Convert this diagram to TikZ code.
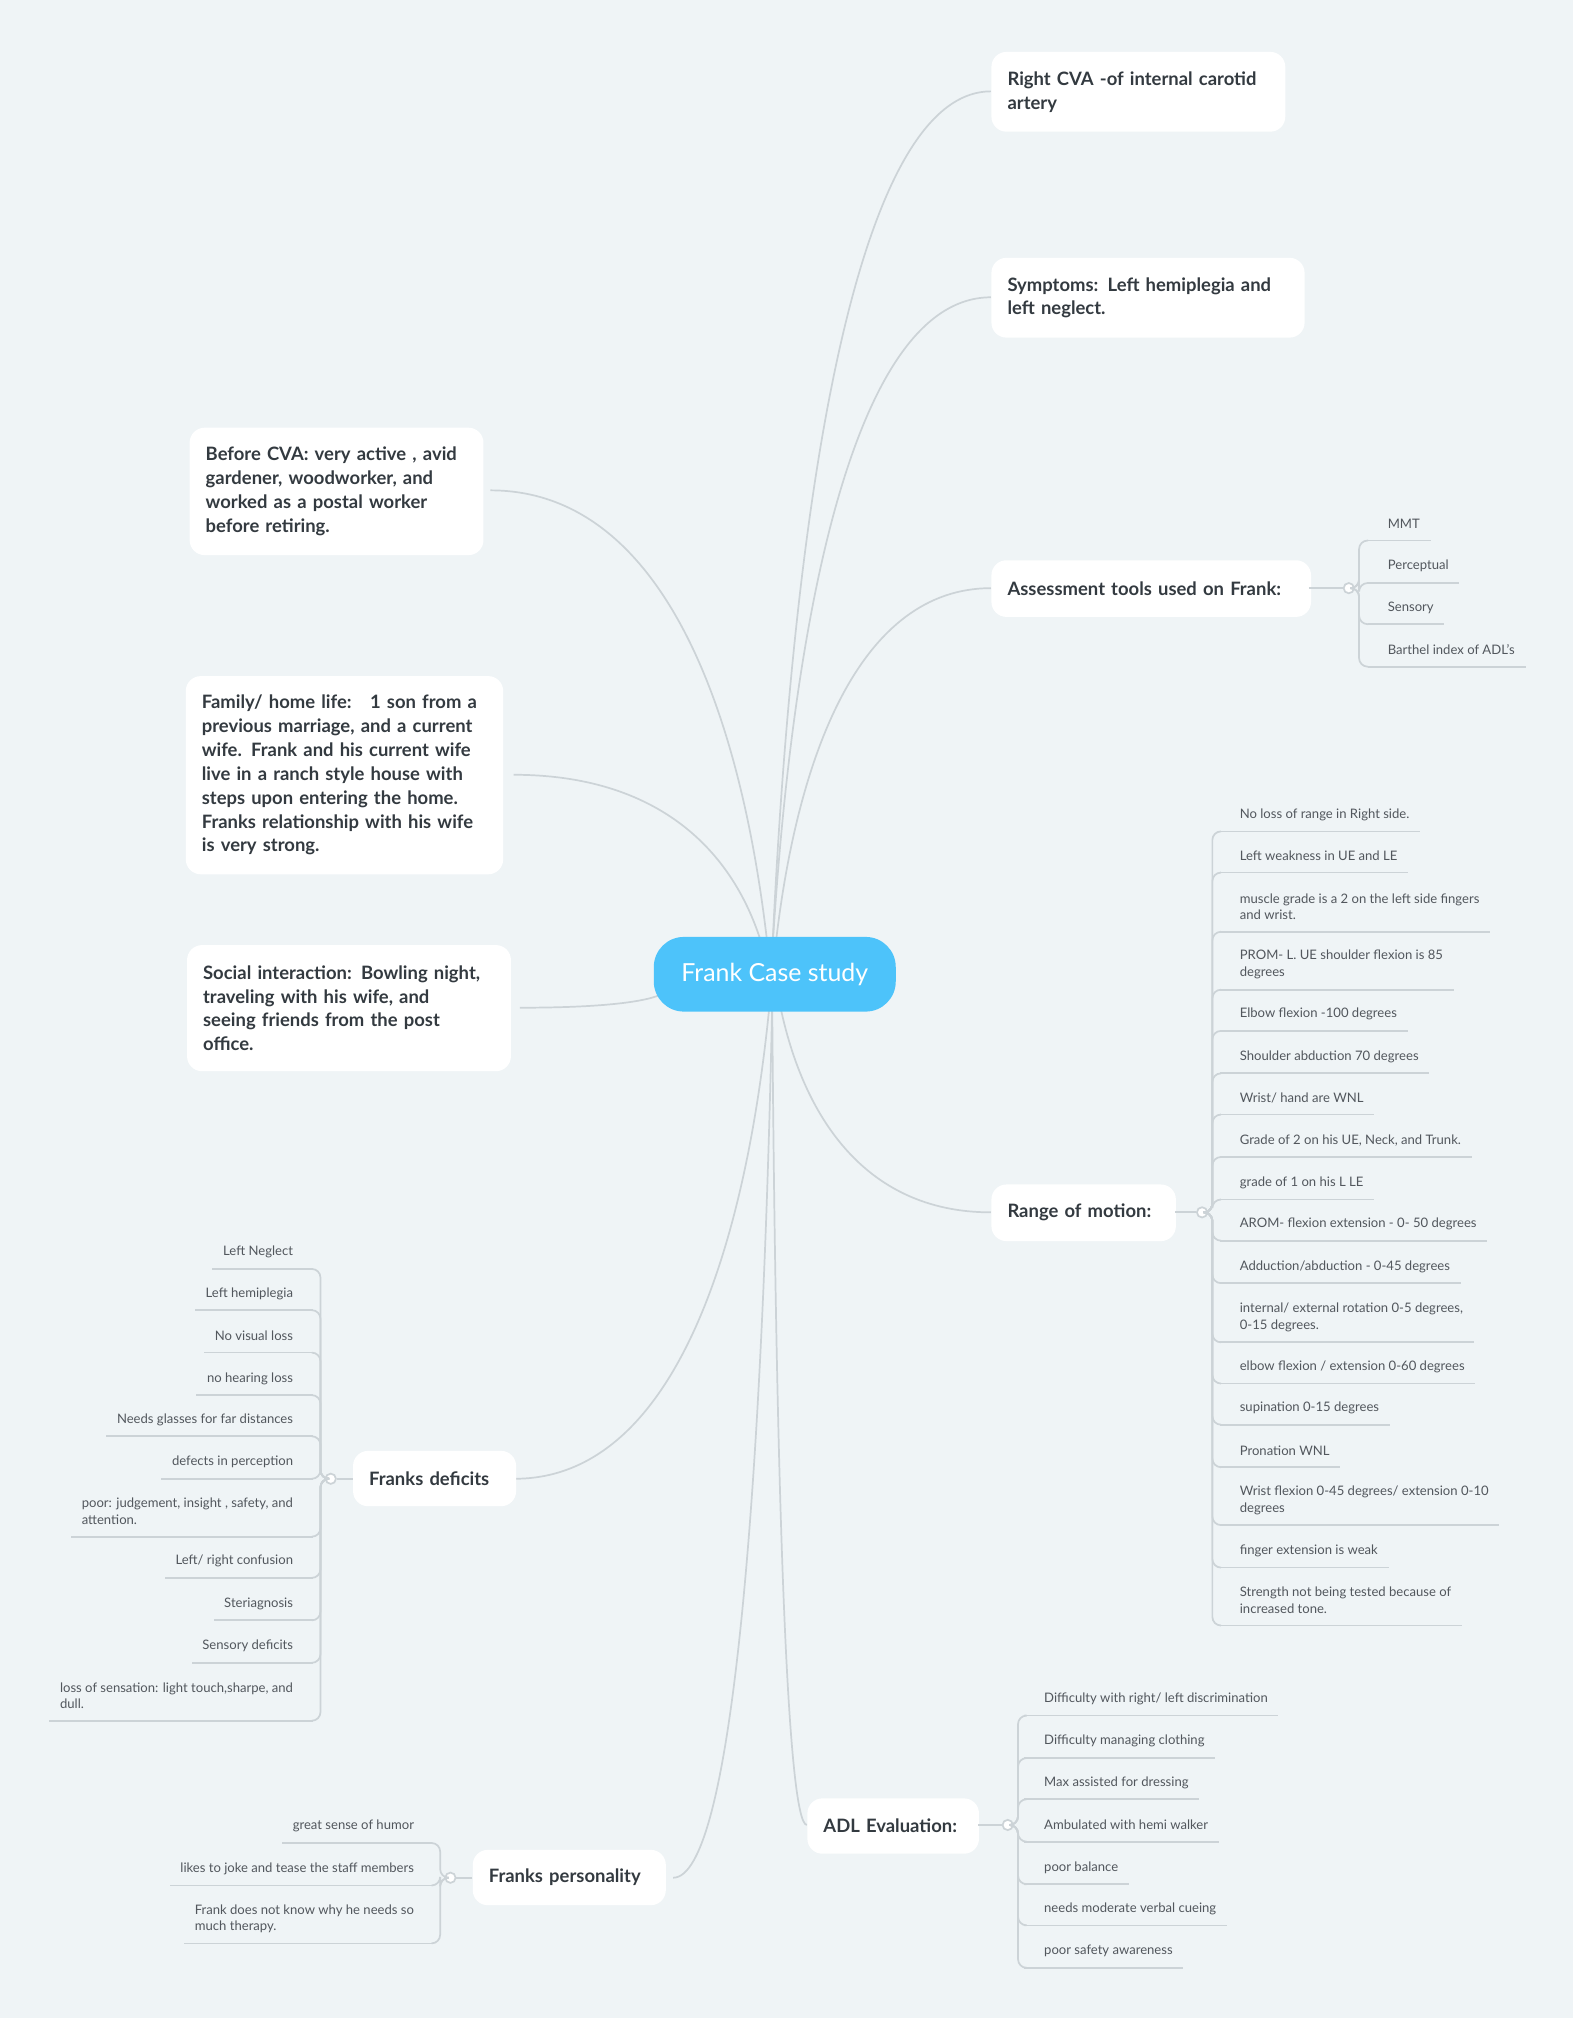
\documentclass[tikz,border=0pt]{standalone}
\usepackage{fontspec}
\setmainfont{Lato}
\definecolor{bg}{HTML}{EFF4F6}
\definecolor{ln}{HTML}{CCD3D7}
\definecolor{tx}{HTML}{333A40}
\definecolor{cen}{HTML}{4DC3FA}
\tikzset{
 ln/.style={draw=ln,line width=0.8pt},
 main/.style={fill=white,rounded corners=7pt,font=\fontsize{8.6}{11.1}\selectfont\bfseries,text=tx,align=left,inner xsep=7.5pt,anchor=north west},
 leaf/.style={font=\fontsize{6.1}{7.8}\selectfont,text=tx!85,align=left,inner xsep=4.8pt,inner ysep=1pt},
 hubc/.style={circle,fill=white,draw=ln,line width=0.8pt,inner sep=0pt,minimum size=4.8pt}
}
\newcommand\leafR[7]{%
 \node[leaf,anchor=west] (#1) at ({#2-8},{(#3+#4)/2}) {#5};
 \coordinate (#1u) at ({#2-15},{#4+13});
 \draw[ln] (#1u) -- (#1u -| #1.east);
 \draw[ln,rounded corners=4pt] (#6) -- (#7,0 |- #6) -- (#7,0 |- #1u) -- (#1u);}
\newcommand\leafL[7]{%
 \node[leaf,anchor=east] (#1) at ({#2+8},{(#3+#4)/2}) {#5};
 \coordinate (#1u) at ({#7-6},{#4+13});
 \draw[ln] (#1u) -- (#1u -| #1.west);
 \draw[ln,rounded corners=4pt] (#6) -- (#7,0 |- #6) -- (#7,0 |- #1u) -- (#1u);}
\newcommand\conn[4]{\draw[ln] (#1,#2) .. controls ({#1+0.1*(#3-#1)},{#2+0.55*(#4-#2)}) and ({#1+0.4*(#3-#1)},#4) .. (#3,#4);}
\begin{document}
\begin{tikzpicture}[x=0.6pt,y=-0.6pt]
\fill[bg] (0,0) rectangle (1222,1568);
\useasboundingbox (0,0) rectangle (1222,1568);
% connectors
\conn{600}{740}{770}{71}
\conn{600}{740}{770}{231}
\conn{602}{740}{770}{457}
\conn{604}{770}{770}{942}
\conn{600}{780}{627}{1418}
\conn{597}{740}{381}{381}
\conn{595}{745}{399}{602}
\conn{515}{772}{404}{783}
\conn{598}{780}{400}{1149}
\conn{600}{780}{523}{1459}
% center
\node[fill=cen,rounded corners=14pt,minimum width=112.8pt,minimum height=34.8pt,text=white,font=\fontsize{11.6}{14}\selectfont] (c) at (602,757) {Frank Case study};
% main boxes
\node[main,text width=122pt,minimum height=37.2pt] (n1) at (770,40) {Right CVA -of internal carotid\\artery};
\node[main,text width=131pt,minimum height=37.2pt] (n2) at (770,200) {Symptoms: Left hemiplegia and\\left neglect.};
\node[main,text width=134pt,minimum height=26.4pt] (n3) at (770,435) {Assessment tools used on Frank:};
\node[main,text width=71pt,minimum height=26.4pt] (n4) at (770,920) {Range of motion:};
\node[main,text width=65pt,minimum height=25.8pt] (n5) at (627,1397) {ADL Evaluation:};
\node[main,text width=122pt,minimum height=59.4pt] (n6) at (147,332) {Before CVA: very active , avid\\gardener, woodworker, and\\worked as a postal worker\\before retiring.};
\node[main,text width=133pt,minimum height=92.4pt] (n7) at (144,525) {Family/ home life:\ \ \ 1 son from a\\previous marriage, and a current\\wife. Frank and his current wife\\live in a ranch style house with\\steps upon entering the home.\\Franks relationship with his wife\\is very strong.};
\node[main,text width=136pt,minimum height=58.8pt] (n8) at (145,734) {Social interaction: Bowling night,\\traveling with his wife, and\\seeing friends from the post\\office.};
\node[main,text width=61pt,minimum height=25.8pt] (n9) at (274,1127) {Franks deficits};
\node[main,text width=75pt,minimum height=25.8pt] (n10) at (367,1437) {Franks personality};
% hubs
\node[hubc] (h3) at (1048,457) {}; \draw[ln] (1017,457) -- (h3);
\node[hubc] (h4) at (934,942) {}; \draw[ln] (913,942) -- (h4);
\node[hubc] (h5) at (783,1418) {}; \draw[ln] (760,1418) -- (h5);
\node[hubc] (h9) at (257,1149) {}; \draw[ln] (274,1149) -- (h9);
\node[hubc] (h10) at (350,1459) {}; \draw[ln] (367,1459) -- (h10);
% assessment
\leafR{a1}{1078}{407}{407}{MMT}{h3}{1056}
\leafR{a2}{1078}{440}{440}{Perceptual}{h3}{1056}
\leafR{a3}{1078}{472}{472}{Sensory}{h3}{1056}
\leafR{a4}{1078}{505}{505}{Barthel index of ADL's}{h3}{1056}
% ROM
\leafR{r1}{963}{633}{633}{No loss of range in Right side.}{h4}{942}
\leafR{r2}{963}{665}{665}{Left weakness in UE and LE}{h4}{942}
\leafR{r3}{963}{698}{711}{muscle grade is a 2 on the left side fingers\\and wrist.}{h4}{942}
\leafR{r4}{963}{743}{756}{PROM- L. UE shoulder flexion is 85\\degrees}{h4}{942}
\leafR{r5}{963}{788}{788}{Elbow flexion -100 degrees}{h4}{942}
\leafR{r6}{963}{821}{821}{Shoulder abduction 70 degrees}{h4}{942}
\leafR{r7}{963}{853}{853}{Wrist/ hand are WNL}{h4}{942}
\leafR{r8}{963}{886}{886}{Grade of 2 on his UE, Neck, and Trunk.}{h4}{942}
\leafR{r9}{963}{919}{919}{grade of 1 on his L LE}{h4}{942}
\leafR{r10}{963}{951}{951}{AROM- flexion extension - 0- 50 degrees}{h4}{942}
\leafR{r11}{963}{984}{984}{Adduction/abduction - 0-45 degrees}{h4}{942}
\leafR{r12}{963}{1017}{1030}{internal/ external rotation 0-5 degrees,\\0-15 degrees.}{h4}{942}
\leafR{r13}{963}{1062}{1062}{elbow flexion / extension 0-60 degrees}{h4}{942}
\leafR{r14}{963}{1094}{1094}{supination 0-15 degrees}{h4}{942}
\leafR{r15}{963}{1127}{1127}{Pronation WNL}{h4}{942}
\leafR{r16}{963}{1160}{1172}{Wrist flexion 0-45 degrees/ extension 0-10\\degrees}{h4}{942}
\leafR{r17}{963}{1205}{1205}{finger extension is weak}{h4}{942}
\leafR{r18}{963}{1237}{1250}{Strength not being tested because of\\increased tone.}{h4}{942}
% ADL
\leafR{d1}{811}{1320}{1320}{Difficulty with right/ left discrimination}{h5}{791}
\leafR{d2}{811}{1353}{1353}{Difficulty managing clothing}{h5}{791}
\leafR{d3}{811}{1385}{1385}{Max assisted for dressing}{h5}{791}
\leafR{d4}{811}{1418}{1418}{Ambulated with hemi walker}{h5}{791}
\leafR{d5}{811}{1451}{1451}{poor balance}{h5}{791}
\leafR{d6}{811}{1483}{1483}{needs moderate verbal cueing}{h5}{791}
\leafR{d7}{811}{1516}{1516}{poor safety awareness}{h5}{791}
% deficits
\leafL{f1}{228}{973}{973}{Left Neglect}{h9}{249}
\leafL{f2}{228}{1005}{1005}{Left hemiplegia}{h9}{249}
\leafL{f3}{228}{1038}{1038}{No visual loss}{h9}{249}
\leafL{f4}{228}{1071}{1071}{no hearing loss}{h9}{249}
\leafL{f5}{228}{1103}{1103}{Needs glasses for far distances}{h9}{249}
\leafL{f6}{228}{1136}{1136}{defects in perception}{h9}{249}
\leafL{f7}{228}{1168}{1181}{poor: judgement, insight , safety, and\\attention.}{h9}{249}
\leafL{f8}{228}{1213}{1213}{Left/ right confusion}{h9}{249}
\leafL{f9}{228}{1246}{1246}{Steriagnosis}{h9}{249}
\leafL{f10}{228}{1279}{1279}{Sensory deficits}{h9}{249}
\leafL{f11}{228}{1311}{1324}{loss of sensation: light touch,sharpe, and\\dull.}{h9}{249}
% personality
\leafL{p1}{322}{1419}{1419}{great sense of humor}{h10}{342}
\leafL{p2}{322}{1452}{1452}{likes to joke and tease the staff members}{h10}{342}
\leafL{p3}{322}{1485}{1497}{Frank does not know why he needs so\\much therapy.}{h10}{342}
\end{tikzpicture}
\end{document}
